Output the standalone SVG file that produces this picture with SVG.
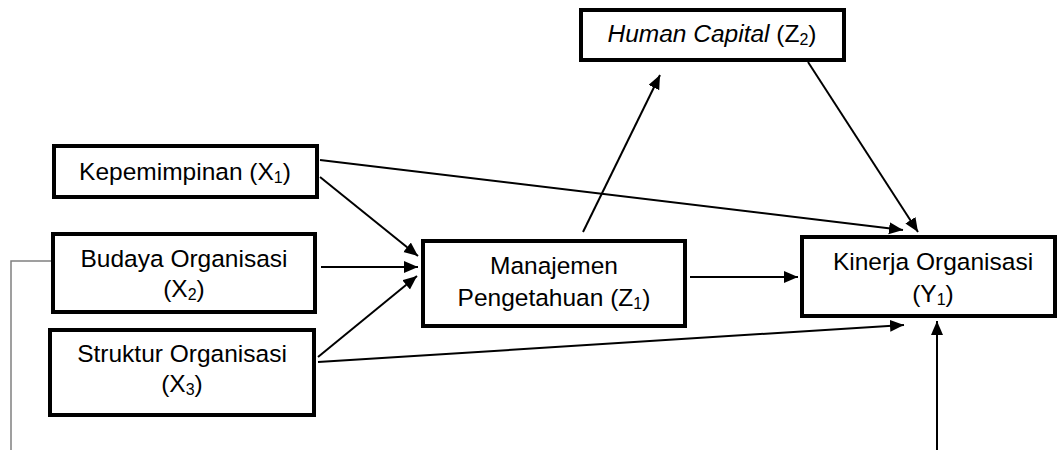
<svg xmlns="http://www.w3.org/2000/svg" width="1060" height="450" viewBox="0 0 1060 450">
<style>
.box{fill:#fff;stroke:#000;stroke-width:4}
.t{font-family:"Liberation Sans",Arial,sans-serif;font-size:24.5px;fill:#000;text-anchor:middle}
.s{font-size:16px}
.c{stroke:#000;stroke-width:2;fill:none}
.g{stroke:#808080;stroke-width:1.5;fill:none}
</style>
<defs>
<marker id="ah" markerUnits="userSpaceOnUse" markerWidth="15" markerHeight="13" refX="14" refY="6" orient="auto">
<path d="M0,0 L14,6 L0,12 z" fill="#000"/>
</marker>
</defs>
<g id="connectors">
<line class="c" x1="320" y1="177" x2="418" y2="256" marker-end="url(#ah)"/>
<line class="c" x1="321" y1="267" x2="418" y2="267" marker-end="url(#ah)"/>
<line class="c" x1="318" y1="357" x2="417" y2="276" marker-end="url(#ah)"/>
<line class="c" x1="320" y1="160" x2="903" y2="230" marker-end="url(#ah)"/>
<line class="c" x1="318" y1="362" x2="904" y2="325" marker-end="url(#ah)"/>
<line class="c" x1="690" y1="277" x2="798" y2="277" marker-end="url(#ah)"/>
<line class="c" x1="583" y1="232" x2="660" y2="75" marker-end="url(#ah)"/>
<line class="c" x1="808" y1="62" x2="918" y2="232" marker-end="url(#ah)"/>
<line class="c" x1="937" y1="450" x2="937" y2="321" marker-end="url(#ah)"/>
<polyline class="g" points="51,261 11,261 11,450"/>
</g>
<g id="kepemimpinan">
<rect class="box" x="54" y="146" width="263" height="51"/>
<text class="t" x="185" y="180">Kepemimpinan (X<tspan class="s" dy="3">1</tspan><tspan dy="-3">)</tspan></text>
</g>
<g id="budaya">
<rect class="box" x="53" y="234" width="262" height="78"/>
<text class="t" x="184" y="267">Budaya Organisasi</text>
<text class="t" x="184" y="297">(X<tspan class="s" dy="3">2</tspan><tspan dy="-3">)</tspan></text>
</g>
<g id="struktur">
<rect class="box" x="50" y="330" width="264" height="85"/>
<text class="t" x="182" y="362">Struktur Organisasi</text>
<text class="t" x="182" y="392">(X<tspan class="s" dy="3">3</tspan><tspan dy="-3">)</tspan></text>
</g>
<g id="manajemen">
<rect class="box" x="423" y="241" width="262" height="85"/>
<text class="t" x="554" y="274">Manajemen</text>
<text class="t" x="554" y="306">Pengetahuan (Z<tspan class="s" dy="3">1</tspan><tspan dy="-3">)</tspan></text>
</g>
<g id="humancapital">
<rect class="box" x="581" y="10" width="263" height="50"/>
<text class="t" x="712" y="42"><tspan font-style="italic">Human Capital</tspan> (Z<tspan class="s" dy="3">2</tspan><tspan dy="-3">)</tspan></text>
</g>
<g id="kinerja">
<rect class="box" x="802" y="237" width="253" height="79"/>
<text class="t" x="933" y="270">Kinerja Organisasi</text>
<text class="t" x="933" y="302">(Y<tspan class="s" dy="3">1</tspan><tspan dy="-3">)</tspan></text>
</g>
</svg>
